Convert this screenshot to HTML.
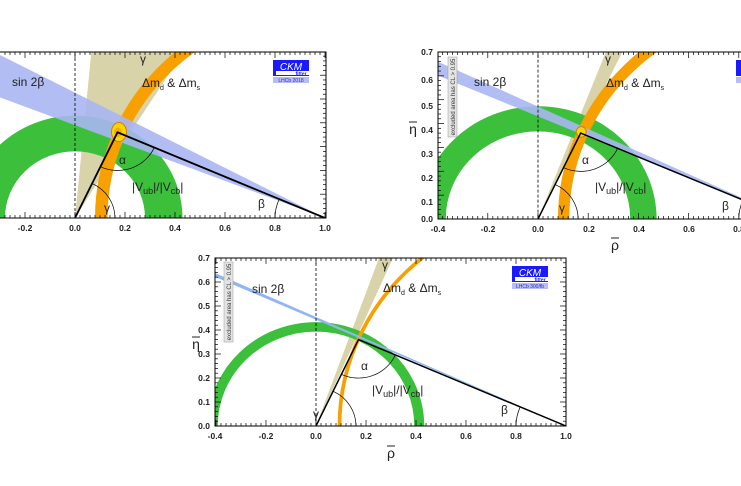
<!DOCTYPE html>
<html><head><meta charset="utf-8"><style>
html,body{margin:0;padding:0;background:#fff;width:741px;height:486px;overflow:hidden;}
svg{display:block;font-family:"Liberation Sans",sans-serif;}
.tk{font-size:8.5px;font-weight:bold;fill:#222;}
.lb{font-size:12px;fill:#222;}
.ns{vector-effect:non-scaling-stroke;}
</style></head><body>
<svg id="s" width="741" height="486" viewBox="0 0 741 486">
<defs>
<clipPath id="cA"><rect x="0" y="52" width="326" height="166"/></clipPath>
<clipPath id="cB"><rect x="438" y="52" width="303" height="167"/></clipPath>
<clipPath id="cC"><rect x="215" y="258" width="351" height="168"/></clipPath>
</defs>
<rect width="741" height="486" fill="#fff"/>

<!-- Panel A -->
<g clip-path="url(#cA)">
<g transform="translate(75,218) scale(250,-238)">
<polygon points="0,0 0.075,0.8 0.5,0.8 0.12,0.2" fill="#d8d3a8"/>
<circle cx="0" cy="0" r="0.355" fill="none" stroke="#3cc03c" stroke-width="0.15"/>
<circle cx="1" cy="0" r="0.895" fill="none" stroke="#f7a000" stroke-width="0.05"/>
<polygon points="1,0 -0.5,0.79 -0.5,0.585" fill="#a9b6f2" opacity="0.9"/>
<ellipse cx="0.176" cy="0.361" rx="0.03" ry="0.04" fill="#ffd400" stroke="#d08000" stroke-width="1" class="ns"/>
<ellipse cx="0.172" cy="0.36" rx="0.016" ry="0.02" fill="#f0b000"/>
<line x1="0" y1="-1" x2="0" y2="1" stroke="#000" stroke-width="0.8" stroke-dasharray="3,2" class="ns"/>
<polyline points="0,0 0.17,0.36 1,0" fill="none" stroke="#000" stroke-width="1.8" class="ns"/>
<path d="M0.102,0.215 A0.16,0.16 0 0,1 0.317,0.296" fill="none" stroke="#000" stroke-width="0.7" class="ns"/>
<path d="M0.16,0 A0.16,0.16 0 0,1 0.068,0.145" fill="none" stroke="#000" stroke-width="0.7" class="ns"/>
<path d="M0.8,0 A0.2,0.2 0 0,0 0.817,0.08" fill="none" stroke="#000" stroke-width="0.7" class="ns"/>
</g></g>
<text class="lb" x="12" y="86" font-size="13">sin 2β</text>
<text class="lb" x="140" y="63" font-size="10">γ</text>
<text class="lb" x="142" y="87">Δm<tspan font-size="7" dy="3">d</tspan><tspan dy="-3"> &amp; Δm</tspan><tspan font-size="7" dy="3">s</tspan></text>
<text class="lb" x="119" y="164" font-size="9">α</text>
<text class="lb" x="132" y="191" font-size="15">|V<tspan font-size="9" dy="3">ub</tspan><tspan dy="-3">|/|V</tspan><tspan font-size="9" dy="3">cb</tspan><tspan dy="-3">|</tspan></text>
<text class="lb" x="104" y="212" font-size="9">γ</text>
<text class="lb" x="258" y="208" font-size="9">β</text>
<rect x="273" y="60" width="36" height="16" fill="#1a1aff"/>
<rect x="276" y="71" width="33" height="4" fill="#fff"/>
<text x="291" y="70" font-size="10" font-style="italic" fill="#fff" text-anchor="middle">CKM</text>
<text x="301" y="75.5" font-size="5" font-weight="bold" fill="#1a1aff" text-anchor="middle">fitter</text>
<rect x="273" y="77" width="36" height="6" fill="#b8bef5"/>
<text x="291" y="82" font-size="5" fill="#3030c0" text-anchor="middle">LHCb 2018</text>
<polyline points="0,52 326,52 326,218 0,218" fill="none" stroke="#000" stroke-width="1"/>
<text class="tk" x="25" y="231" text-anchor="middle">-0.2</text>
<text class="tk" x="75" y="231" text-anchor="middle">0.0</text>
<text class="tk" x="125" y="231" text-anchor="middle">0.2</text>
<text class="tk" x="175" y="231" text-anchor="middle">0.4</text>
<text class="tk" x="225" y="231" text-anchor="middle">0.6</text>
<text class="tk" x="275" y="231" text-anchor="middle">0.8</text>
<text class="tk" x="325" y="231" text-anchor="middle">1.0</text>

<!-- Panel B -->
<g clip-path="url(#cB)">
<g transform="translate(538,219) scale(251,-238.6)">
<polygon points="0,0 0.29,0.75 0.36,0.75" fill="#d8d3a8"/>
<circle cx="0" cy="0" r="0.42" fill="none" stroke="#3cc03c" stroke-width="0.105"/>
<circle cx="1" cy="0" r="0.898" fill="none" stroke="#f7a000" stroke-width="0.045"/>
<polygon points="1,0 -0.5,0.707 -0.5,0.645" fill="#a9b6f2" opacity="0.9"/>
<ellipse cx="0.172" cy="0.365" rx="0.02" ry="0.022" fill="#ffd400" stroke="#d08000" stroke-width="1" class="ns"/>
<line x1="0" y1="-1" x2="0" y2="1" stroke="#000" stroke-width="0.8" stroke-dasharray="3,2" class="ns"/>
<polyline points="0,0 0.17,0.36 1,0" fill="none" stroke="#000" stroke-width="1.5" class="ns"/>
<path d="M0.102,0.215 A0.16,0.16 0 0,1 0.317,0.296" fill="none" stroke="#000" stroke-width="0.7" class="ns"/>
<path d="M0.16,0 A0.16,0.16 0 0,1 0.068,0.145" fill="none" stroke="#000" stroke-width="0.7" class="ns"/>
<path d="M0.8,0 A0.2,0.2 0 0,0 0.817,0.08" fill="none" stroke="#000" stroke-width="0.7" class="ns"/>
</g></g>
<text class="lb" x="474" y="86" font-size="13">sin 2β</text>
<text class="lb" x="605" y="63" font-size="10">γ</text>
<text class="lb" x="606" y="87">Δm<tspan font-size="7" dy="3">d</tspan><tspan dy="-3"> &amp; Δm</tspan><tspan font-size="7" dy="3">s</tspan></text>
<text class="lb" x="582" y="164" font-size="9">α</text>
<text class="lb" x="595" y="191" font-size="15">|V<tspan font-size="9" dy="3">ub</tspan><tspan dy="-3">|/|V</tspan><tspan font-size="9" dy="3">cb</tspan><tspan dy="-3">|</tspan></text>
<text class="lb" x="559" y="212" font-size="9">γ</text>
<text class="lb" x="722" y="210" font-size="9">β</text>
<rect x="736" y="60" width="10" height="16" fill="#1a1aff"/>
<rect x="736" y="77" width="10" height="6" fill="#b8bef5"/>
<rect x="448" y="57" width="9" height="80" fill="#e4e4e4" stroke="#999" stroke-width="0.5"/>
<text x="0" y="0" font-size="6" fill="#333" text-anchor="middle" transform="translate(455,97) rotate(-90)">excluded area has CL &gt; 0.95</text>
<polyline points="741,52 438,52 438,219 741,219" fill="none" stroke="#000" stroke-width="1"/>
<text class="tk" x="433" y="55" text-anchor="end">0.7</text>
<text class="tk" x="433" y="83" text-anchor="end">0.6</text>
<text class="tk" x="433" y="109" text-anchor="end">0.5</text>
<text class="tk" x="433" y="133" text-anchor="end">0.4</text>
<text class="tk" x="433" y="157" text-anchor="end">0.3</text>
<text class="tk" x="433" y="181" text-anchor="end">0.2</text>
<text class="tk" x="433" y="205" text-anchor="end">0.1</text>
<text class="tk" x="433" y="222" text-anchor="end">0.0</text>
<text class="tk" x="438" y="232" text-anchor="middle">-0.4</text>
<text class="tk" x="488" y="232" text-anchor="middle">-0.2</text>
<text class="tk" x="538" y="232" text-anchor="middle">0.0</text>
<text class="tk" x="589" y="232" text-anchor="middle">0.2</text>
<text class="tk" x="639" y="232" text-anchor="middle">0.4</text>
<text class="tk" x="689" y="232" text-anchor="middle">0.6</text>
<text class="tk" x="739" y="232" text-anchor="middle">0.8</text>
<text x="615" y="250" font-size="14" fill="#222" text-anchor="middle">ρ</text>
<line x1="611" y1="238" x2="619" y2="238" stroke="#222" stroke-width="1"/>
<text x="413" y="134" font-size="14" fill="#222" text-anchor="middle">η</text>
<line x1="409" y1="122" x2="417" y2="122" stroke="#222" stroke-width="1"/>

<!-- Panel C -->
<g clip-path="url(#cC)">
<g transform="translate(316,426) scale(250,-240)">
<polygon points="0,0 0.27,0.75 0.33,0.75" fill="#d8d3a8"/>
<circle cx="0" cy="0" r="0.413" fill="none" stroke="#3cc03c" stroke-width="0.04"/>
<circle cx="1" cy="0" r="0.906" fill="none" stroke="#f7a000" stroke-width="0.015"/>
<polygon points="1,0 -0.5,0.681 -0.5,0.664" fill="#8fb6f2"/>
<line x1="0" y1="-1" x2="0" y2="1" stroke="#000" stroke-width="0.8" stroke-dasharray="3,2" class="ns"/>
<polyline points="0,0 0.17,0.36 1,0" fill="none" stroke="#000" stroke-width="1.5" class="ns"/>
<path d="M0.102,0.215 A0.16,0.16 0 0,1 0.317,0.296" fill="none" stroke="#000" stroke-width="0.7" class="ns"/>
<path d="M0.16,0 A0.16,0.16 0 0,1 0.068,0.145" fill="none" stroke="#000" stroke-width="0.7" class="ns"/>
<path d="M0.8,0 A0.2,0.2 0 0,0 0.817,0.08" fill="none" stroke="#000" stroke-width="0.7" class="ns"/>
</g></g>
<text class="lb" x="252" y="293" font-size="13">sin 2β</text>
<text class="lb" x="382" y="269" font-size="10">γ</text>
<text class="lb" x="383" y="292">Δm<tspan font-size="7" dy="3">d</tspan><tspan dy="-3"> &amp; Δm</tspan><tspan font-size="7" dy="3">s</tspan></text>
<text class="lb" x="361" y="370" font-size="9">α</text>
<text class="lb" x="372" y="394" font-size="15">|V<tspan font-size="9" dy="3">ub</tspan><tspan dy="-3">|/|V</tspan><tspan font-size="9" dy="3">cb</tspan><tspan dy="-3">|</tspan></text>
<text class="lb" x="313" y="418" font-size="9">γ</text>
<text class="lb" x="501" y="414" font-size="9">β</text>
<rect x="512" y="266" width="36" height="16" fill="#1a1aff"/>
<rect x="515" y="277" width="33" height="4" fill="#fff"/>
<text x="530" y="276" font-size="10" font-style="italic" fill="#fff" text-anchor="middle">CKM</text>
<text x="540" y="281.5" font-size="5" font-weight="bold" fill="#1a1aff" text-anchor="middle">fitter</text>
<rect x="512" y="283" width="36" height="6" fill="#b8bef5"/>
<text x="530" y="288" font-size="5" fill="#3030c0" text-anchor="middle">LHCb 300/fb</text>
<rect x="224" y="262" width="9" height="80" fill="#e4e4e4" stroke="#999" stroke-width="0.5"/>
<text x="0" y="0" font-size="6" fill="#333" text-anchor="middle" transform="translate(231,302) rotate(-90)">excluded area has CL &gt; 0.95</text>
<rect x="215" y="258" width="351" height="168" fill="none" stroke="#000" stroke-width="1"/>
<text class="tk" x="210" y="261" text-anchor="end">0.7</text>
<text class="tk" x="210" y="285" text-anchor="end">0.6</text>
<text class="tk" x="210" y="309" text-anchor="end">0.5</text>
<text class="tk" x="210" y="333" text-anchor="end">0.4</text>
<text class="tk" x="210" y="357" text-anchor="end">0.3</text>
<text class="tk" x="210" y="381" text-anchor="end">0.2</text>
<text class="tk" x="210" y="405" text-anchor="end">0.1</text>
<text class="tk" x="210" y="429" text-anchor="end">0.0</text>
<text class="tk" x="215" y="439" text-anchor="middle">-0.4</text>
<text class="tk" x="266" y="439" text-anchor="middle">-0.2</text>
<text class="tk" x="316" y="439" text-anchor="middle">0.0</text>
<text class="tk" x="366" y="439" text-anchor="middle">0.2</text>
<text class="tk" x="416" y="439" text-anchor="middle">0.4</text>
<text class="tk" x="466" y="439" text-anchor="middle">0.6</text>
<text class="tk" x="516" y="439" text-anchor="middle">0.8</text>
<text class="tk" x="566" y="439" text-anchor="middle">1.0</text>
<text x="391" y="458" font-size="14" fill="#222" text-anchor="middle">ρ</text>
<line x1="387" y1="446" x2="395" y2="446" stroke="#222" stroke-width="1"/>
<text x="196" y="349" font-size="14" fill="#222" text-anchor="middle">η</text>
<line x1="192" y1="337" x2="200" y2="337" stroke="#222" stroke-width="1"/>
<g id="ticks" stroke="#000" stroke-width="0.7"></g>
</svg>
<script>
(function(){
var g=document.getElementById('ticks'),ns='http://www.w3.org/2000/svg';
function L(a,b,c,d){var l=document.createElementNS(ns,'line');l.setAttribute('x1',a);l.setAttribute('y1',b);l.setAttribute('x2',c);l.setAttribute('y2',d);g.appendChild(l);}
var P=[{X0:75,Y0:218,S:250,T:238,l:0,r:326,t:52,b:218,lf:false},
{X0:538,Y0:219,S:251,T:238.6,l:438,r:741,t:52,b:219,lf:true},
{X0:316,Y0:426,S:250,T:240,l:215,r:566,t:258,b:426,lf:true}];
P.forEach(function(p){
for(var i=-30;i<=60;i++){var v=i*0.02,x=p.X0+v*p.S;if(x<p.l+0.5||x>p.r-0.5)continue;var m=(i%10==0)?6:3;L(x,p.b,x,p.b-m);L(x,p.t,x,p.t+m);}
for(var j=0;j<=35;j++){var y=p.Y0-j*0.02*p.T;if(y<p.t)continue;var m=(j%5==0)?6:3;if(p.lf)L(p.l,y,p.l+m,y);if(p.r<740)L(p.r,y,p.r-m,y);}
});
})();
</script>
</body></html>
